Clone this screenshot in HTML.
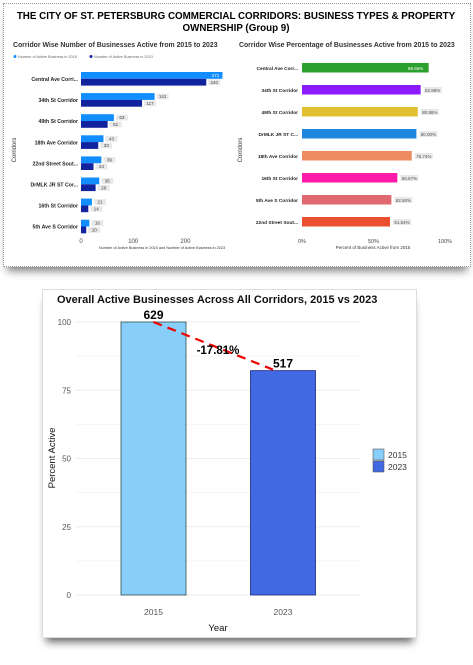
<!DOCTYPE html>
<html><head><meta charset="utf-8"><style>
body{margin:0;width:473px;height:665px;background:#fff;font-family:"Liberation Sans",sans-serif;overflow:hidden;position:relative}
#top{position:absolute;left:3px;top:3px;width:466px;height:262px;background:#fff;border:1px dotted #999;box-shadow:0 8px 8px -4px rgba(0,0,0,0.5)}
#bot{position:absolute;left:42px;top:289px;width:373px;height:347px;background:#fff;border:1px solid #ddd;box-shadow:0 8px 8px -4px rgba(0,0,0,0.6)}
svg{position:absolute;left:0;top:0}
</style></head><body>
<div id="top"></div>
<div id="bot"></div>
<svg width="473" height="665" id="s">
<text x="236" y="19" text-anchor="middle" font-size="9.8" font-weight="bold">THE CITY OF ST. PETERSBURG COMMERCIAL CORRIDORS: BUSINESS TYPES &amp; PROPERTY</text>
<text x="236" y="31" text-anchor="middle" font-size="9.8" font-weight="bold">OWNERSHIP (Group 9)</text>
<text x="13" y="47" font-size="6.9" font-weight="bold" fill="#333">Corridor Wise Number of Businesses Active from 2015 to 2023</text>
<text x="239" y="47" font-size="6.9" font-weight="bold" fill="#333">Corridor Wise Percentage of Businesses Active from 2015 to 2023</text>
<circle cx="15" cy="56.5" r="1.5" fill="#118dff"/>
<text x="18" y="58" font-size="3.8" fill="#666">Number of Active Business in 2015</text>
<circle cx="91" cy="56.5" r="1.5" fill="#12239e"/>
<text x="94" y="58" font-size="3.8" fill="#666">Number of Active Business in 2023</text>
<text x="16" y="150" font-size="6" fill="#333" transform="rotate(-90 16 150)" text-anchor="middle">Corridors</text>
<text x="242" y="150" font-size="6" fill="#333" transform="rotate(-90 242 150)" text-anchor="middle">Corridors</text>
<text x="162" y="249" font-size="3.8" fill="#333" text-anchor="middle">Number of Active Business in 2015 and Number of Active Business in 2023</text>
<text x="373" y="249" font-size="4.5" fill="#333" text-anchor="middle">Percent of Business Active from 2015</text>
<g id="L"></g><g id="R"></g><g id="B"></g>
</svg>
<script>
const corrL=["Central Ave Corri...","34th St Corridor","49th St Corridor","18th Ave Corridor","22nd Street Sout...","DrMLK JR ST Cor...","16th St Corridor","5th Ave S Corridor"];
const v2015=[271,141,63,43,39,35,21,16];
const v2023=[240,117,51,33,24,28,14,10];
const ticksL=[0,100,200];
const corrR=["Central Ave Corr...","34th St Corridor","49th St Corridor","DrMLK JR ST C...","18th Ave Corridor","16th St Corridor","5th Ave S Corridor","22nd Street Sout..."];
const pct=[88.56,82.98,80.95,80.00,76.74,66.67,62.50,61.54];
const pctColors=["#2ca02c","#8c1aff","#e0c030","#1f86e0","#ec8a60","#ff1aaa","#e06870","#e85030"];
const ticksR=[0,50,100];
const years=["2015","2023"];
const pctActive=[100,82.19];
const counts=[629,517];
const change="-17.81%";
const ticksB=[0,25,50,75,100];
const NS="http://www.w3.org/2000/svg";
function el(g,t,a,txt){const e=document.createElementNS(NS,t);for(const k in a)e.setAttribute(k,a[k]);if(txt!=null)e.textContent=txt;g.appendChild(e);return e;}
const L=document.getElementById('L'),R=document.getElementById('R'),B=document.getElementById('B');
const xL=v=>81+v*0.522, yL=i=>72+i*21.1;
ticksL.forEach(t=>{const e=el(L,'text',{x:xL(t),y:243,'font-size':6,fill:'#444','text-anchor':'middle'},t);
});
corrL.forEach((c,i)=>{const y=yL(i);
const lb=el(L,'text',{x:78,y:y+9,'font-size':5.2,'font-weight':'bold','text-anchor':'end',fill:'#222'},c);

const b1=el(L,'rect',{x:81,y:y,width:xL(v2015[i])-81,height:6.8,fill:'#118dff'});

const b2=el(L,'rect',{x:81,y:y+6.8,width:xL(v2023[i])-81,height:6.8,fill:'#12239e'});

[[v2015[i],y],[v2023[i],y+6.8]].forEach(([v,yy],k)=>{
 const inside=(i==0&&k==0);
 const bx=inside?xL(v)-13:xL(v)+2;
 if(!inside){const bg=el(L,'rect',{x:bx,y:yy+0.5,width:12,height:5.8,fill:'#e8e8e8'});}
 const t=el(L,'text',{x:bx+6,y:yy+5,'font-size':4.5,'text-anchor':'middle',fill:inside?'#fff':'#444'},v);
 });
});
const xR=v=>302+v*1.43, yR=i=>63+i*22;
ticksR.forEach(t=>{const e=el(R,'text',{x:xR(t),y:243,'font-size':5.5,fill:'#444','text-anchor':'middle'},t+'%');
});
corrR.forEach((c,i)=>{const y=yR(i);
const lb=el(R,'text',{x:298,y:y+7,'font-size':4.8,'font-weight':'bold','text-anchor':'end',fill:'#222'},c);

const b=el(R,'rect',{x:302,y:y,width:xR(pct[i])-302,height:9.5,fill:pctColors[i]});

const inside=i==0, bx=inside?xR(pct[i])-22:xR(pct[i])+3;
if(!inside){const bg=el(R,'rect',{x:bx,y:y+2,width:18,height:6,fill:'#e8e8e8'});}
const t=el(R,'text',{x:bx+9,y:y+6.8,'font-size':4.5,'text-anchor':'middle',fill:inside?'#fff':'#555'},pct[i].toFixed(2)+'%');
});
const yB=v=>595-v*2.73, xB=i=>153.5+i*129.5;
const tt=el(B,'text',{x:57,y:303,'font-size':11,'font-weight':'bold',fill:'#111'},'Overall Active Businesses Across All Corridors, 2015 vs 2023');

for(let v=0;v<=100;v+=12.5){const g=el(B,'line',{x1:76,x2:361,y1:yB(v),y2:yB(v),stroke:'#ececec','stroke-width':v%25==0?1:0.6});}
ticksB.forEach(t=>{const e=el(B,'text',{x:71,y:yB(t)+3,'font-size':8,fill:'#555','text-anchor':'end'},t);});
const fills=['#87cefa','#4169e1'],strokes=['#2f4f4f','#1a237e'];
years.forEach((y,i)=>{
const b=el(B,'rect',{x:xB(i)-32.5,y:yB(pctActive[i]),width:65,height:yB(0)-yB(pctActive[i]),fill:fills[i],stroke:strokes[i],'stroke-width':0.8});

const t=el(B,'text',{x:xB(i),y:615,'font-size':8.5,fill:'#555','text-anchor':'middle'},y);
const c=el(B,'text',{x:xB(i),y:yB(pctActive[i])-3,'font-size':12,'font-weight':'bold','text-anchor':'middle'},counts[i]);});
const ln=el(B,'line',{x1:xB(0),y1:yB(pctActive[0]),x2:xB(1)-10,y2:yB(pctActive[1])-1,stroke:'#e00','stroke-width':2.2,'stroke-dasharray':'9,6'});

const ch=el(B,'text',{x:218,y:354,'font-size':11.5,'font-weight':'bold','text-anchor':'middle'},change);
const xt=el(B,'text',{x:218,y:631,'font-size':9.5,'text-anchor':'middle',fill:'#111'},'Year');
const yt=el(B,'text',{x:55,y:458,'font-size':9.5,'text-anchor':'middle',fill:'#111',transform:'rotate(-90 55 458)'},'Percent Active');
years.forEach((y,i)=>{const r=el(B,'rect',{x:373,y:449+i*12,width:11,height:11,fill:fills[i],stroke:'#555','stroke-width':0.6});
const t=el(B,'text',{x:388,y:458+i*12,'font-size':8.5,fill:'#333'},y);});
</script>
</body></html>
